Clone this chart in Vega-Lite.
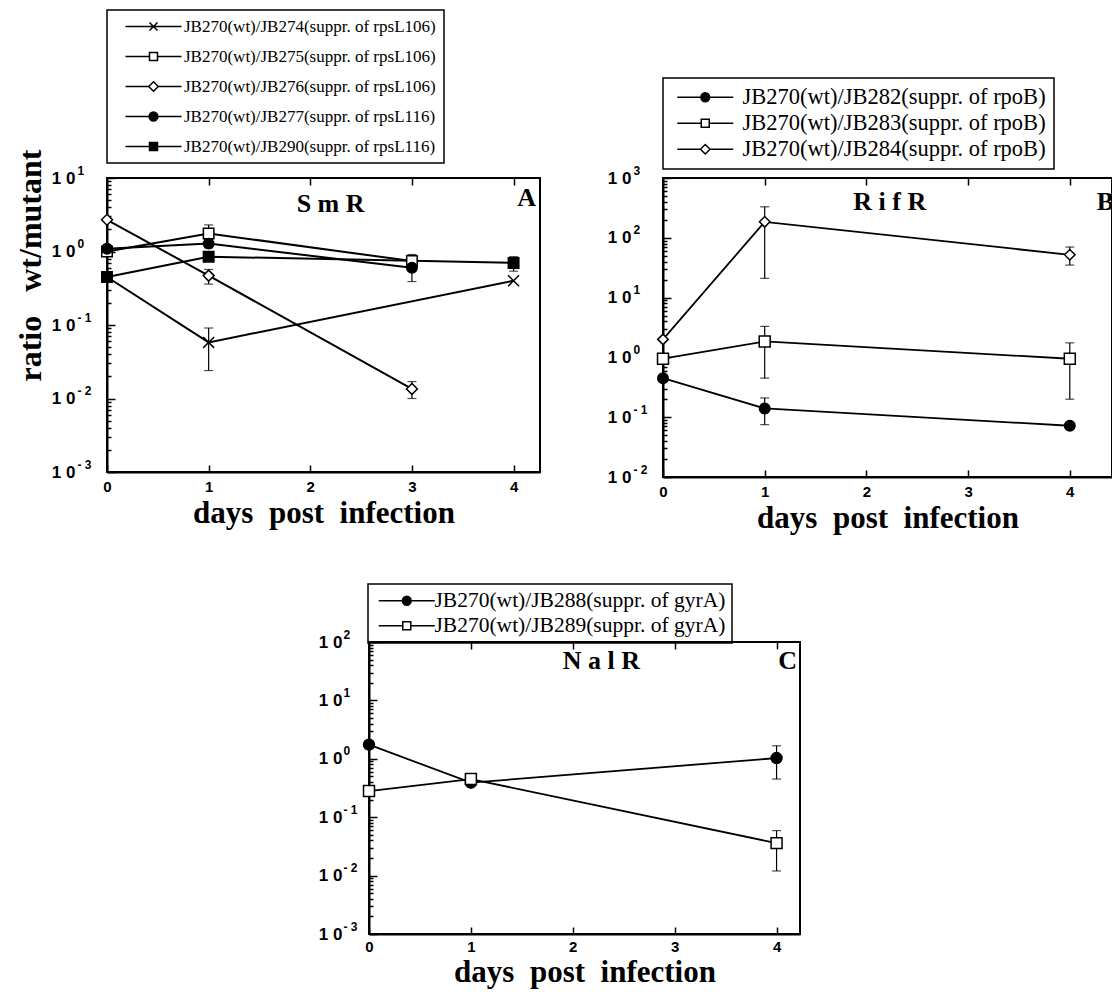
{
  "$schema": "https://vega.github.io/schema/vega-lite/v6.json",
  "background": "white",
  "padding": {"left": 13, "top": 8, "right": 0, "bottom": 2},
  "config": {
    "view": {"stroke": "black", "strokeWidth": 2},
    "axis": {"grid": false, "domainColor": "black", "domainWidth": 2, "tickColor": "black", "tickWidth": 1.5, "labelFont": "Liberation Sans", "labelFontWeight": "bold", "labelColor": "black", "titleFont": "Liberation Serif", "titleFontWeight": "bold", "titleColor": "black", "labelOverlap": false},
    "legend": {"orient": "none", "title": null, "strokeColor": "black", "strokeWidth": 1.5, "padding": 8, "labelFont": "Liberation Serif", "labelColor": "black", "symbolSize": 64, "symbolStrokeWidth": 1.5, "symbolOffset": 30, "labelOffset": 22, "labelLimit": 500}
  },
  "datasets": {
    "A": [
      {"series": "JB270(wt)/JB274(suppr. of rpsL106)", "day": 0, "ratio": 0.45},
      {"series": "JB270(wt)/JB274(suppr. of rpsL106)", "day": 1, "ratio": 0.058, "lo": 0.024, "hi": 0.091},
      {"series": "JB270(wt)/JB274(suppr. of rpsL106)", "day": 4, "ratio": 0.40},
      {"series": "JB270(wt)/JB275(suppr. of rpsL106)", "day": 0, "ratio": 1.0},
      {"series": "JB270(wt)/JB275(suppr. of rpsL106)", "day": 1, "ratio": 1.76, "lo": 1.35, "hi": 2.3},
      {"series": "JB270(wt)/JB275(suppr. of rpsL106)", "day": 3, "ratio": 0.74, "lo": 0.6, "hi": 0.91},
      {"series": "JB270(wt)/JB276(suppr. of rpsL106)", "day": 0, "ratio": 2.7},
      {"series": "JB270(wt)/JB276(suppr. of rpsL106)", "day": 1, "ratio": 0.47, "lo": 0.36, "hi": 0.57},
      {"series": "JB270(wt)/JB276(suppr. of rpsL106)", "day": 3, "ratio": 0.0135, "lo": 0.010, "hi": 0.017},
      {"series": "JB270(wt)/JB277(suppr. of rpsL116)", "day": 0, "ratio": 1.09},
      {"series": "JB270(wt)/JB277(suppr. of rpsL116)", "day": 1, "ratio": 1.28, "lo": 1.12, "hi": 1.45},
      {"series": "JB270(wt)/JB277(suppr. of rpsL116)", "day": 3, "ratio": 0.60, "lo": 0.39, "hi": 0.75},
      {"series": "JB270(wt)/JB290(suppr. of rpsL116)", "day": 0, "ratio": 0.45},
      {"series": "JB270(wt)/JB290(suppr. of rpsL116)", "day": 1, "ratio": 0.85},
      {"series": "JB270(wt)/JB290(suppr. of rpsL116)", "day": 4, "ratio": 0.70, "lo": 0.54, "hi": 0.85}
    ],
    "B": [
      {"series": "JB270(wt)/JB282(suppr. of rpoB)", "day": 0, "ratio": 0.45},
      {"series": "JB270(wt)/JB282(suppr. of rpoB)", "day": 1, "ratio": 0.14, "lo": 0.075, "hi": 0.21},
      {"series": "JB270(wt)/JB282(suppr. of rpoB)", "day": 4, "ratio": 0.072},
      {"series": "JB270(wt)/JB283(suppr. of rpoB)", "day": 0, "ratio": 0.95},
      {"series": "JB270(wt)/JB283(suppr. of rpoB)", "day": 1, "ratio": 1.85, "lo": 0.45, "hi": 3.3},
      {"series": "JB270(wt)/JB283(suppr. of rpoB)", "day": 4, "ratio": 0.95, "lo": 0.2, "hi": 1.75},
      {"series": "JB270(wt)/JB284(suppr. of rpoB)", "day": 0, "ratio": 2.0},
      {"series": "JB270(wt)/JB284(suppr. of rpoB)", "day": 1, "ratio": 185, "lo": 21, "hi": 330},
      {"series": "JB270(wt)/JB284(suppr. of rpoB)", "day": 4, "ratio": 52, "lo": 35, "hi": 70}
    ],
    "C": [
      {"series": "JB270(wt)/JB288(suppr. of gyrA)", "day": 0, "ratio": 1.75},
      {"series": "JB270(wt)/JB288(suppr. of gyrA)", "day": 1, "ratio": 0.39},
      {"series": "JB270(wt)/JB288(suppr. of gyrA)", "day": 4, "ratio": 1.03, "lo": 0.45, "hi": 1.67},
      {"series": "JB270(wt)/JB289(suppr. of gyrA)", "day": 0, "ratio": 0.28},
      {"series": "JB270(wt)/JB289(suppr. of gyrA)", "day": 1, "ratio": 0.45},
      {"series": "JB270(wt)/JB289(suppr. of gyrA)", "day": 4, "ratio": 0.036, "lo": 0.012, "hi": 0.059}
    ]
  },
  "spacing": 48,
  "resolve": {"scale": {"shape": "independent", "fill": "independent", "stroke": "independent"}, "legend": {"shape": "independent", "fill": "independent", "stroke": "independent"}},
  "vconcat": [
    {
      "spacing": 65,
      "resolve": {"scale": {"shape": "independent", "fill": "independent", "stroke": "independent"}, "legend": {"shape": "independent", "fill": "independent", "stroke": "independent"}},
      "hconcat": [
        {
          "width": 433, "height": 294,
          "data": {"name": "A"},
          "resolve": {"axis": {"x": "independent", "y": "independent"}},
          "layer": [
            {
              "mark": {"type": "line", "color": "black", "strokeWidth": 2},
              "encoding": {
                "x": {"field": "day", "type": "quantitative", "scale": {"domain": [0, 4.26], "nice": false},
                  "axis": {"orient": "bottom", "values": [0, 1, 2, 3, 4], "format": "d", "labelFontSize": 15, "tickSize": -7, "labelPadding": 14, "labelFlush": false, "title": "days\u00a0 post\u00a0 infection", "titleFontSize": 31, "titlePadding": 4}},
                "y": {"field": "ratio", "type": "quantitative", "scale": {"type": "log", "domain": [0.001, 10], "nice": false},
                  "axis": {"orient": "left", "values": [0.001,0.002,0.003,0.004,0.005,0.006,0.007,0.008,0.009,0.01,0.02,0.03,0.04,0.05,0.06,0.07,0.08,0.09,0.1,0.2,0.3,0.4,0.5,0.6,0.7,0.8,0.9,1,2,3,4,5,6,7,8,9,10],
                    "labelExpr": "abs(log(datum.value)/LN10 - round(log(datum.value)/LN10)) < 0.001 ? '1 0' : ''",
                    "tickSize": {"condition": {"test": "abs(log(datum.value)/LN10 - round(log(datum.value)/LN10)) < 0.001", "value": -8}, "value": -4},
                    "labelFontSize": 17, "labelPadding": 40, "title": "ratio\u00a0\u00a0 wt/mutant", "titleFontSize": 32, "titlePadding": 4, "titleY": 87}},
                "detail": {"field": "series"}
              }
            },
            {
              "transform": [{"filter": "datum.lo != null"}],
              "mark": {"type": "rule", "color": "black", "strokeWidth": 1.2},
              "encoding": {
                "x": {"field": "day", "type": "quantitative", "axis": {"orient": "top", "values": [1, 2, 3, 4], "labels": false, "domain": false, "tickSize": -7, "title": null}},
                "y": {"field": "lo", "type": "quantitative", "axis": {"orient": "left", "values": [0.001, 0.01, 0.1, 1, 10], "ticks": false, "domain": false, "labelAlign": "left", "labelPadding": 30, "labelFontSize": 12, "labelOffset": -8, "labelExpr": "['- 3','- 2','- 1','0','1','2','3'][round(log(datum.value)/LN10)+3]", "title": null}},
                "y2": {"field": "hi"}
              }
            },
            {
              "transform": [{"filter": "datum.lo != null"}],
              "mark": {"type": "tick", "orient": "horizontal", "color": "black", "thickness": 1.2, "size": 9},
              "encoding": {"x": {"field": "day", "type": "quantitative", "axis": null}, "y": {"field": "lo", "type": "quantitative", "axis": null}}
            },
            {
              "transform": [{"filter": "datum.lo != null"}],
              "mark": {"type": "tick", "orient": "horizontal", "color": "black", "thickness": 1.2, "size": 9},
              "encoding": {"x": {"field": "day", "type": "quantitative", "axis": null}, "y": {"field": "hi", "type": "quantitative", "axis": null}}
            },
            {
              "transform": [{"filter": {"field": "series", "equal": "JB270(wt)/JB274(suppr. of rpsL106)"}}],
              "mark": {"type": "point", "shape": "M-1,-1L1,1M-1,1L1,-1", "filled": false, "stroke": "black", "strokeWidth": 1.5, "size": 120, "opacity": 1},
              "encoding": {"x": {"field": "day", "type": "quantitative", "axis": null}, "y": {"field": "ratio", "type": "quantitative", "axis": null}}
            },
            {
              "transform": [{"filter": {"field": "series", "equal": "JB270(wt)/JB275(suppr. of rpsL106)"}}],
              "mark": {"type": "point", "shape": "square", "filled": true, "fill": "white", "stroke": "black", "strokeWidth": 1.5, "size": 110, "opacity": 1},
              "encoding": {"x": {"field": "day", "type": "quantitative", "axis": null}, "y": {"field": "ratio", "type": "quantitative", "axis": null}}
            },
            {
              "transform": [{"filter": {"field": "series", "equal": "JB270(wt)/JB276(suppr. of rpsL106)"}}],
              "mark": {"type": "point", "shape": "diamond", "filled": true, "fill": "white", "stroke": "black", "strokeWidth": 1.5, "size": 120, "opacity": 1},
              "encoding": {"x": {"field": "day", "type": "quantitative", "axis": null}, "y": {"field": "ratio", "type": "quantitative", "axis": null}}
            },
            {
              "transform": [{"filter": {"field": "series", "equal": "JB270(wt)/JB277(suppr. of rpsL116)"}}],
              "mark": {"type": "point", "shape": "circle", "filled": true, "fill": "black", "stroke": "black", "strokeWidth": 1.5, "size": 110, "opacity": 1},
              "encoding": {"x": {"field": "day", "type": "quantitative", "axis": null}, "y": {"field": "ratio", "type": "quantitative", "axis": null}}
            },
            {
              "transform": [{"filter": {"field": "series", "equal": "JB270(wt)/JB290(suppr. of rpsL116)"}}],
              "mark": {"type": "point", "shape": "square", "filled": true, "fill": "black", "stroke": "black", "strokeWidth": 1.5, "size": 110, "opacity": 1},
              "encoding": {"x": {"field": "day", "type": "quantitative", "axis": null}, "y": {"field": "ratio", "type": "quantitative", "axis": null}}
            },
            {
              "transform": [{"filter": "false"}],
              "mark": {"type": "point", "filled": true, "strokeWidth": 1.5, "opacity": 1},
              "encoding": {
                "x": {"field": "day", "type": "quantitative", "axis": null}, "y": {"field": "ratio", "type": "quantitative", "axis": null},
                "shape": {"field": "series", "type": "nominal", "legend": {"legendX": 0, "legendY": -168, "labelFontSize": 17, "rowPadding": 12}, "scale": {"domain": ["JB270(wt)/JB274(suppr. of rpsL106)", "JB270(wt)/JB275(suppr. of rpsL106)", "JB270(wt)/JB276(suppr. of rpsL106)", "JB270(wt)/JB277(suppr. of rpsL116)", "JB270(wt)/JB290(suppr. of rpsL116)"], "range": ["M-7,0H7M-1,-1L1,1M-1,1L1,-1", "M-7,0H-1M1,0H7M-1,-1H1V1H-1Z", "M-7,0H-1.2M1.2,0H7M0,-1.2L1.2,0L0,1.2L-1.2,0Z", "M-7,0H7M-1.1,0A1.1,1.1 0 1,0 1.1,0A1.1,1.1 0 1,0 -1.1,0Z", "M-7,0H7M-1,-1H1V1H-1Z"]}},
                "fill": {"field": "series", "type": "nominal", "legend": {"legendX": 0, "legendY": -168, "labelFontSize": 17, "rowPadding": 12}, "scale": {"domain": ["JB270(wt)/JB274(suppr. of rpsL106)", "JB270(wt)/JB275(suppr. of rpsL106)", "JB270(wt)/JB276(suppr. of rpsL106)", "JB270(wt)/JB277(suppr. of rpsL116)", "JB270(wt)/JB290(suppr. of rpsL116)"], "range": ["black", "white", "white", "black", "black"]}},
                "stroke": {"field": "series", "type": "nominal", "legend": {"legendX": 0, "legendY": -168, "labelFontSize": 17, "rowPadding": 12}, "scale": {"domain": ["JB270(wt)/JB274(suppr. of rpsL106)", "JB270(wt)/JB275(suppr. of rpsL106)", "JB270(wt)/JB276(suppr. of rpsL106)", "JB270(wt)/JB277(suppr. of rpsL116)", "JB270(wt)/JB290(suppr. of rpsL116)"], "range": ["black", "black", "black", "black", "black"]}}
              }
            },
            {
              "data": {"values": [{}]},
              "mark": {"type": "text", "text": "S m R", "font": "Liberation Serif", "fontWeight": "bold", "fontSize": 26, "align": "center", "baseline": "middle", "color": "black"},
              "encoding": {"x": {"datum": 2.2, "axis": null}, "y": {"datum": 4.4, "axis": null}}
            },
            {
              "data": {"values": [{}]},
              "mark": {"type": "text", "text": "A", "font": "Liberation Serif", "fontWeight": "bold", "fontSize": 26, "align": "right", "baseline": "middle", "color": "black"},
              "encoding": {"x": {"datum": 4.22, "axis": null}, "y": {"datum": 5.4, "axis": null}}
            }
          ]
        },
        {
          "width": 449, "height": 299,
          "data": {"name": "B"},
          "resolve": {"axis": {"x": "independent", "y": "independent"}},
          "layer": [
            {
              "mark": {"type": "line", "color": "black", "strokeWidth": 1.8},
              "encoding": {
                "x": {"field": "day", "type": "quantitative", "scale": {"domain": [0, 4.415], "nice": false},
                  "axis": {"orient": "bottom", "values": [0, 1, 2, 3, 4], "format": "d", "labelFontSize": 15, "tickSize": -7, "labelPadding": 14, "labelFlush": false, "title": "days\u00a0 post\u00a0 infection", "titleFontSize": 31, "titlePadding": 4}},
                "y": {"field": "ratio", "type": "quantitative", "scale": {"type": "log", "domain": [0.01, 1000], "nice": false},
                  "axis": {"orient": "left", "values": [0.01,0.02,0.03,0.04,0.05,0.06,0.07,0.08,0.09,0.1,0.2,0.3,0.4,0.5,0.6,0.7,0.8,0.9,1,2,3,4,5,6,7,8,9,10,20,30,40,50,60,70,80,90,100,200,300,400,500,600,700,800,900,1000],
                    "labelExpr": "abs(log(datum.value)/LN10 - round(log(datum.value)/LN10)) < 0.001 ? '1 0' : ''",
                    "tickSize": {"condition": {"test": "abs(log(datum.value)/LN10 - round(log(datum.value)/LN10)) < 0.001", "value": -8}, "value": -4},
                    "labelFontSize": 17, "labelPadding": 40, "title": null}},
                "detail": {"field": "series"}
              }
            },
            {
              "transform": [{"filter": "datum.lo != null"}],
              "mark": {"type": "rule", "color": "black", "strokeWidth": 1.2},
              "encoding": {
                "x": {"field": "day", "type": "quantitative", "axis": {"orient": "top", "values": [1, 2, 3, 4], "labels": false, "domain": false, "tickSize": -7, "title": null}},
                "y": {"field": "lo", "type": "quantitative", "axis": {"orient": "left", "values": [0.01, 0.1, 1, 10, 100, 1000], "ticks": false, "domain": false, "labelAlign": "left", "labelPadding": 30, "labelFontSize": 12, "labelOffset": -8, "labelExpr": "['- 3','- 2','- 1','0','1','2','3'][round(log(datum.value)/LN10)+3]", "title": null}},
                "y2": {"field": "hi"}
              }
            },
            {
              "transform": [{"filter": "datum.lo != null"}],
              "mark": {"type": "tick", "orient": "horizontal", "color": "black", "thickness": 1.2, "size": 9},
              "encoding": {"x": {"field": "day", "type": "quantitative", "axis": null}, "y": {"field": "lo", "type": "quantitative", "axis": null}}
            },
            {
              "transform": [{"filter": "datum.lo != null"}],
              "mark": {"type": "tick", "orient": "horizontal", "color": "black", "thickness": 1.2, "size": 9},
              "encoding": {"x": {"field": "day", "type": "quantitative", "axis": null}, "y": {"field": "hi", "type": "quantitative", "axis": null}}
            },
            {
              "transform": [{"filter": {"field": "series", "equal": "JB270(wt)/JB282(suppr. of rpoB)"}}],
              "mark": {"type": "point", "shape": "circle", "filled": true, "fill": "black", "stroke": "black", "strokeWidth": 1.5, "size": 110, "opacity": 1},
              "encoding": {"x": {"field": "day", "type": "quantitative", "axis": null}, "y": {"field": "ratio", "type": "quantitative", "axis": null}}
            },
            {
              "transform": [{"filter": {"field": "series", "equal": "JB270(wt)/JB283(suppr. of rpoB)"}}],
              "mark": {"type": "point", "shape": "square", "filled": true, "fill": "white", "stroke": "black", "strokeWidth": 1.5, "size": 120, "opacity": 1},
              "encoding": {"x": {"field": "day", "type": "quantitative", "axis": null}, "y": {"field": "ratio", "type": "quantitative", "axis": null}}
            },
            {
              "transform": [{"filter": {"field": "series", "equal": "JB270(wt)/JB284(suppr. of rpoB)"}}],
              "mark": {"type": "point", "shape": "diamond", "filled": true, "fill": "white", "stroke": "black", "strokeWidth": 1.5, "size": 110, "opacity": 1},
              "encoding": {"x": {"field": "day", "type": "quantitative", "axis": null}, "y": {"field": "ratio", "type": "quantitative", "axis": null}}
            },
            {
              "transform": [{"filter": "false"}],
              "mark": {"type": "point", "filled": true, "strokeWidth": 1.5, "opacity": 1},
              "encoding": {
                "x": {"field": "day", "type": "quantitative", "axis": null}, "y": {"field": "ratio", "type": "quantitative", "axis": null},
                "shape": {"field": "series", "type": "nominal", "legend": {"legendX": 0, "legendY": -100, "labelFontSize": 22.5, "rowPadding": 3, "symbolOffset": 23, "labelOffset": 26}, "scale": {"domain": ["JB270(wt)/JB282(suppr. of rpoB)", "JB270(wt)/JB283(suppr. of rpoB)", "JB270(wt)/JB284(suppr. of rpoB)"], "range": ["M-7,0H7M-1.1,0A1.1,1.1 0 1,0 1.1,0A1.1,1.1 0 1,0 -1.1,0Z", "M-7,0H-1M1,0H7M-1,-1H1V1H-1Z", "M-7,0H-1.2M1.2,0H7M0,-1.2L1.2,0L0,1.2L-1.2,0Z"]}},
                "fill": {"field": "series", "type": "nominal", "legend": {"legendX": 0, "legendY": -100, "labelFontSize": 22.5, "rowPadding": 3, "symbolOffset": 23, "labelOffset": 26}, "scale": {"domain": ["JB270(wt)/JB282(suppr. of rpoB)", "JB270(wt)/JB283(suppr. of rpoB)", "JB270(wt)/JB284(suppr. of rpoB)"], "range": ["black", "white", "white"]}},
                "stroke": {"field": "series", "type": "nominal", "legend": {"legendX": 0, "legendY": -100, "labelFontSize": 22.5, "rowPadding": 3, "symbolOffset": 23, "labelOffset": 26}, "scale": {"domain": ["JB270(wt)/JB282(suppr. of rpoB)", "JB270(wt)/JB283(suppr. of rpoB)", "JB270(wt)/JB284(suppr. of rpoB)"], "range": ["black", "black", "black"]}}
              }
            },
            {
              "data": {"values": [{}]},
              "mark": {"type": "text", "text": "R i f R", "font": "Liberation Serif", "fontWeight": "bold", "fontSize": 26, "align": "center", "baseline": "middle", "color": "black"},
              "encoding": {"x": {"datum": 2.23, "axis": null}, "y": {"datum": 400, "axis": null}}
            },
            {
              "data": {"values": [{}]},
              "mark": {"type": "text", "text": "B", "font": "Liberation Serif", "fontWeight": "bold", "fontSize": 26, "align": "center", "baseline": "middle", "color": "black"},
              "encoding": {"x": {"datum": 4.35, "axis": null}, "y": {"datum": 400, "axis": null}}
            }
          ]
        }
      ]
    },
    {
      "spacing": 0,
      "resolve": {"scale": {"shape": "independent", "fill": "independent", "stroke": "independent"}, "legend": {"shape": "independent", "fill": "independent", "stroke": "independent"}},
      "hconcat": [
        {
          "width": 210, "height": 10,
          "view": {"stroke": null},
          "data": {"values": []},
          "mark": "point"
        },
        {
          "width": 431, "height": 292,
          "data": {"name": "C"},
          "resolve": {"axis": {"x": "independent", "y": "independent"}},
          "layer": [
            {
              "mark": {"type": "line", "color": "black", "strokeWidth": 1.8},
              "encoding": {
                "x": {"field": "day", "type": "quantitative", "scale": {"domain": [0, 4.23], "nice": false},
                  "axis": {"orient": "bottom", "values": [0, 1, 2, 3, 4], "format": "d", "labelFontSize": 15, "tickSize": -7, "labelPadding": 12, "labelFlush": false, "title": "days\u00a0 post\u00a0 infection", "titleFontSize": 31, "titlePadding": 3}},
                "y": {"field": "ratio", "type": "quantitative", "scale": {"type": "log", "domain": [0.001, 100], "nice": false},
                  "axis": {"orient": "left", "values": [0.001,0.002,0.003,0.004,0.005,0.006,0.007,0.008,0.009,0.01,0.02,0.03,0.04,0.05,0.06,0.07,0.08,0.09,0.1,0.2,0.3,0.4,0.5,0.6,0.7,0.8,0.9,1,2,3,4,5,6,7,8,9,10,20,30,40,50,60,70,80,90,100],
                    "labelExpr": "abs(log(datum.value)/LN10 - round(log(datum.value)/LN10)) < 0.001 ? '1 0' : ''",
                    "tickSize": {"condition": {"test": "abs(log(datum.value)/LN10 - round(log(datum.value)/LN10)) < 0.001", "value": -8}, "value": -4},
                    "labelFontSize": 17, "labelPadding": 35, "title": null}},
                "detail": {"field": "series"}
              }
            },
            {
              "transform": [{"filter": "datum.lo != null"}],
              "mark": {"type": "rule", "color": "black", "strokeWidth": 1.2},
              "encoding": {
                "x": {"field": "day", "type": "quantitative", "axis": {"orient": "top", "values": [1, 2, 3, 4], "labels": false, "domain": false, "tickSize": -7, "title": null}},
                "y": {"field": "lo", "type": "quantitative", "axis": {"orient": "left", "values": [0.001, 0.01, 0.1, 1, 10, 100], "ticks": false, "domain": false, "labelAlign": "left", "labelPadding": 26, "labelFontSize": 12, "labelOffset": -8, "labelExpr": "['- 3','- 2','- 1','0','1','2','3'][round(log(datum.value)/LN10)+3]", "title": null}},
                "y2": {"field": "hi"}
              }
            },
            {
              "transform": [{"filter": "datum.lo != null"}],
              "mark": {"type": "tick", "orient": "horizontal", "color": "black", "thickness": 1.2, "size": 9},
              "encoding": {"x": {"field": "day", "type": "quantitative", "axis": null}, "y": {"field": "lo", "type": "quantitative", "axis": null}}
            },
            {
              "transform": [{"filter": "datum.lo != null"}],
              "mark": {"type": "tick", "orient": "horizontal", "color": "black", "thickness": 1.2, "size": 9},
              "encoding": {"x": {"field": "day", "type": "quantitative", "axis": null}, "y": {"field": "hi", "type": "quantitative", "axis": null}}
            },
            {
              "transform": [{"filter": {"field": "series", "equal": "JB270(wt)/JB288(suppr. of gyrA)"}}],
              "mark": {"type": "point", "shape": "circle", "filled": true, "fill": "black", "stroke": "black", "strokeWidth": 1.5, "size": 120, "opacity": 1},
              "encoding": {"x": {"field": "day", "type": "quantitative", "axis": null}, "y": {"field": "ratio", "type": "quantitative", "axis": null}}
            },
            {
              "transform": [{"filter": {"field": "series", "equal": "JB270(wt)/JB289(suppr. of gyrA)"}}],
              "mark": {"type": "point", "shape": "square", "filled": true, "fill": "white", "stroke": "black", "strokeWidth": 1.5, "size": 120, "opacity": 1},
              "encoding": {"x": {"field": "day", "type": "quantitative", "axis": null}, "y": {"field": "ratio", "type": "quantitative", "axis": null}}
            },
            {
              "transform": [{"filter": "false"}],
              "mark": {"type": "point", "filled": true, "strokeWidth": 1.5, "opacity": 1},
              "encoding": {
                "x": {"field": "day", "type": "quantitative", "axis": null}, "y": {"field": "ratio", "type": "quantitative", "axis": null},
                "shape": {"field": "series", "type": "nominal", "legend": {"legendX": -1, "legendY": -58, "labelFontSize": 21.5, "rowPadding": 2, "padding": 6, "symbolOffset": 22, "labelOffset": 17}, "scale": {"domain": ["JB270(wt)/JB288(suppr. of gyrA)", "JB270(wt)/JB289(suppr. of gyrA)"], "range": ["M-7,0H7M-1.1,0A1.1,1.1 0 1,0 1.1,0A1.1,1.1 0 1,0 -1.1,0Z", "M-7,0H-1M1,0H7M-1,-1H1V1H-1Z"]}},
                "fill": {"field": "series", "type": "nominal", "legend": {"legendX": -1, "legendY": -58, "labelFontSize": 21.5, "rowPadding": 2, "padding": 6, "symbolOffset": 22, "labelOffset": 17}, "scale": {"domain": ["JB270(wt)/JB288(suppr. of gyrA)", "JB270(wt)/JB289(suppr. of gyrA)"], "range": ["black", "white"]}},
                "stroke": {"field": "series", "type": "nominal", "legend": {"legendX": -1, "legendY": -58, "labelFontSize": 21.5, "rowPadding": 2, "padding": 6, "symbolOffset": 22, "labelOffset": 17}, "scale": {"domain": ["JB270(wt)/JB288(suppr. of gyrA)", "JB270(wt)/JB289(suppr. of gyrA)"], "range": ["black", "black"]}}
              }
            },
            {
              "data": {"values": [{}]},
              "mark": {"type": "text", "text": "N a l R", "font": "Liberation Serif", "fontWeight": "bold", "fontSize": 26, "align": "center", "baseline": "middle", "color": "black"},
              "encoding": {"x": {"datum": 2.28, "axis": null}, "y": {"datum": 47, "axis": null}}
            },
            {
              "data": {"values": [{}]},
              "mark": {"type": "text", "text": "C", "font": "Liberation Serif", "fontWeight": "bold", "fontSize": 26, "align": "right", "baseline": "middle", "color": "black"},
              "encoding": {"x": {"datum": 4.2, "axis": null}, "y": {"datum": 47, "axis": null}}
            }
          ]
        }
      ]
    }
  ]
}
